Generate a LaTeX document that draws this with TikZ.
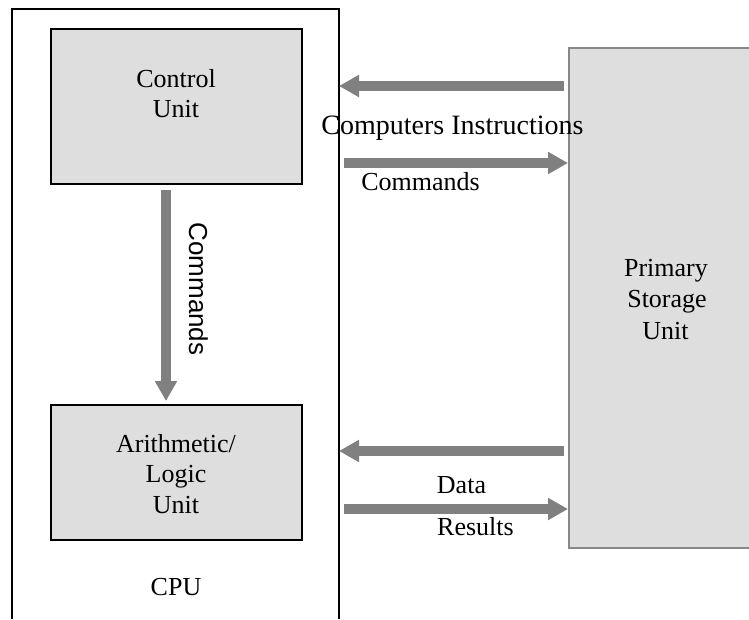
\documentclass[tikz,border=0pt]{standalone}
\usepackage{fontspec}
\setmainfont{Liberation Serif}
\newfontfamily\arialf{Liberation Sans}
\usetikzlibrary{arrows.meta}
\definecolor{boxfill}{RGB}{222,222,222}
\definecolor{arrowgray}{RGB}{128,128,128}
\definecolor{storeedge}{RGB}{136,136,136}
\begin{document}
\begin{tikzpicture}[x=1pt,y=-1pt,
  unitbox/.style={draw=black,line width=1.5pt,fill=boxfill,anchor=north west,inner sep=0pt},
  storebox/.style={draw=storeedge,line width=1.5pt,fill=boxfill,anchor=north west,inner sep=0pt},
  flow/.style={draw=arrowgray,line width=10pt,-{Triangle[length=20pt,width=21pt]}},
  lbl/.style={anchor=base,inner sep=0pt,font=\fontsize{26}{30}\selectfont}]
\useasboundingbox (0,0) rectangle (749,619);
% CPU frame (open at bottom)
\draw[line width=2pt] (12,619) -- (12,9) -- (339,9) -- (339,619);
% boxes
\node[unitbox,minimum width=251pt,minimum height=155pt] (cu) at (50,28) {};
\node[unitbox,minimum width=251pt,minimum height=135pt] (alu) at (50,404) {};
\node[storebox,minimum width=200pt,minimum height=500pt] (store) at (568,47) {};
% arrow end points
\coordinate (a1s) at (564,86);  \coordinate (a1e) at (339,86);
\coordinate (a2s) at (344,163); \coordinate (a2e) at (568,163);
\coordinate (a3s) at (564,451); \coordinate (a3e) at (339,451);
\coordinate (a4s) at (344,509); \coordinate (a4e) at (568,509);
\coordinate (vs) at (166,190);  \coordinate (ve) at (166,401);
\draw[flow] (a1s) -- (a1e);
\draw[flow] (a2s) -- (a2e);
\draw[flow] (a3s) -- (a3e);
\draw[flow] (a4s) -- (a4e);
\draw[flow] (vs) -- (ve);
% texts
\node[lbl] (cu1) at (176,87) {Control};
\node[lbl] (cu2) at (176,117) {Unit};
\node[lbl] (al1) at (176,452) {Arithmetic/};
\node[lbl] (al2) at (176,482) {Logic};
\node[lbl] (al3) at (176,513) {Unit};
\node[lbl] (cpu) at (176,595) {CPU};
\node[lbl] (ps1) at (666,276) {Primary};
\node[lbl] (ps2) at (667,307) {Storage};
\node[lbl] (ps3) at (665.5,339) {Unit};
\node[lbl,font=\fontsize{28}{32}\selectfont] (ci) at (452.5,134) {Computers Instructions};
\node[lbl] (cmd) at (420.5,190) {Commands};
\node[lbl] (data) at (461.5,493) {Data};
\node[lbl] (res) at (475.5,535) {Results};
\node[rotate=-90,anchor=base,inner sep=0pt,font=\arialf\fontsize{26}{30}\selectfont] (vcmd) at (189,289) {Commands};
\end{tikzpicture}
\end{document}
